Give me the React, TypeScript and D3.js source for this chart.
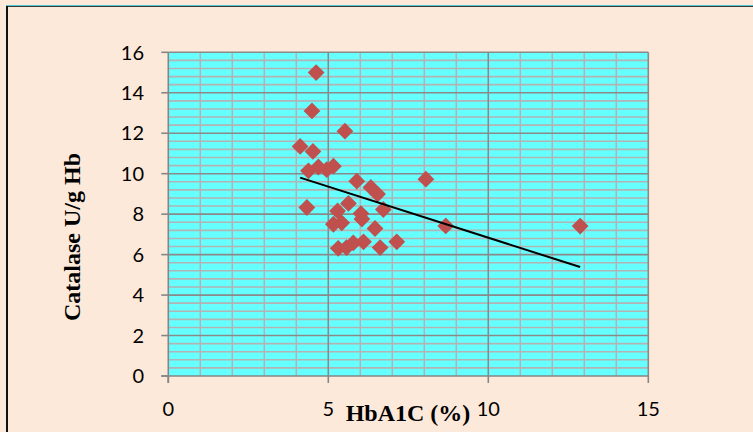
import React from "react";
import * as d3 from "d3";

const hba1c = [4.62, 4.49, 5.52, 4.12, 4.52, 4.38, 4.69, 4.95, 5.16, 5.89, 6.33, 6.54, 8.05, 4.33, 5.63, 5.29, 6.72, 6.02, 6.05, 5.16, 5.42, 6.46, 8.67, 5.31, 5.57, 5.78, 6.1, 6.62, 7.14, 12.87];
const catalase = [15.0, 13.1, 12.1, 11.35, 11.1, 10.14, 10.33, 10.2, 10.37, 9.63, 9.32, 8.99, 9.73, 8.33, 8.53, 8.16, 8.23, 8.03, 7.76, 7.5, 7.57, 7.29, 7.42, 6.31, 6.35, 6.58, 6.63, 6.35, 6.63, 7.41];
const xTicks = [0, 5, 10, 15];
const yTicks = [0, 2, 4, 6, 8, 10, 12, 14, 16];
const xTitle = "HbA1C (%)";
const yTitle = "Catalase U/g Hb";

const W = 753;
const H = 432;

export default function App() {
  const x = d3.scaleLinear().domain([0, 15]).range([168.3, 648.3]);
  const y = d3.scaleLinear().domain([0, 16]).range([376, 52.3]);

  const minorX = d3.range(0, 16, 1).filter((v) => v % 5 !== 0);
  const minorY = d3.range(0, 80).map((i) => i * 0.2 * 2).filter((v) => v <= 16 && Math.abs(v / 2 - Math.round(v / 2)) > 1e-6);

  const mx = d3.mean(hba1c) as number;
  const my = d3.mean(catalase) as number;
  let sxy = 0;
  let sxx = 0;
  hba1c.forEach((v, i) => {
    sxy += (v - mx) * (catalase[i] - my);
    sxx += (v - mx) * (v - mx);
  });
  const slope = sxy / sxx;
  const intercept = my - slope * mx;
  const [x0, x1] = d3.extent(hba1c) as [number, number];
  const trend = d3.line<number>().x((v) => x(v)).y((v) => y(intercept + slope * v))([x0, x1]);

  const diamond = d3.symbol().type(d3.symbolDiamond2).size(180)();

  const tickFont = "Lato, 'Open Sans', sans-serif";
  const titleFont = "'Liberation Serif', 'Times New Roman', serif";

  return (
    <svg width={W} height={H} style={{ position: "absolute", left: 0, top: 0 }}>
      <rect x={0} y={0} width={W} height={H} fill="#fde9d9" />
      <line x1={6} x2={W} y1={5.5} y2={5.5} stroke="#4fc7d0" strokeWidth={1} />
      <line x1={6} x2={W} y1={6.5} y2={6.5} stroke="#3a3a3a" strokeWidth={1} />
      <rect x={6} y={6} width={2} height={H - 6} fill="#111" />

      <rect x={x(0)} y={y(16)} width={x(15) - x(0)} height={y(0) - y(16)} fill="#66ffff" />

      {minorY.map((v) => (
        <line key={"my" + v} x1={x(0)} x2={x(15)} y1={y(v)} y2={y(v)} stroke="#b3b3b3" strokeWidth={1.6} />
      ))}
      {minorX.map((v) => (
        <line key={"mx" + v} x1={x(v)} x2={x(v)} y1={y(0)} y2={y(16)} stroke="#b3b3b3" strokeWidth={1.6} />
      ))}
      {yTicks.filter((v) => v > 0).map((v) => (
        <line key={"gy" + v} x1={x(0)} x2={x(15)} y1={y(v)} y2={y(v)} stroke="#8a8a8a" strokeWidth={1.6} />
      ))}
      {xTicks.filter((v) => v > 0).map((v) => (
        <line key={"gx" + v} x1={x(v)} x2={x(v)} y1={y(0)} y2={y(16)} stroke="#8a8a8a" strokeWidth={1.6} />
      ))}

      <line x1={x(0)} x2={x(0)} y1={y(0) + 7} y2={y(16)} stroke="#868686" strokeWidth={1.6} />
      <line x1={x(0) - 7} x2={x(15)} y1={y(0)} y2={y(0)} stroke="#868686" strokeWidth={1.6} />
      {yTicks.map((v) => (
        <line key={"ty" + v} x1={x(0) - 7} x2={x(0)} y1={y(v)} y2={y(v)} stroke="#868686" strokeWidth={1.6} />
      ))}
      {xTicks.map((v) => (
        <line key={"tx" + v} x1={x(v)} x2={x(v)} y1={y(0)} y2={y(0) + 7} stroke="#868686" strokeWidth={1.6} />
      ))}

      {yTicks.map((v) => (
        <text key={"ly" + v} x={144} y={y(v)} dy="0.36em" textAnchor="end" fontFamily={tickFont} fontSize={20} fill="#000">
          {v}
        </text>
      ))}
      {xTicks.map((v) => (
        <text key={"lx" + v} x={x(v)} y={416} textAnchor="middle" fontFamily={tickFont} fontSize={20} fill="#000">
          {v}
        </text>
      ))}

      {hba1c.map((v, i) => (
        <path key={"p" + i} d={diamond as string} transform={`translate(${x(v)},${y(catalase[i])})`} fill="#c0504d" />
      ))}

      <path d={trend as string} stroke="#000" strokeWidth={2} fill="none" />

      <text x={408} y={421} textAnchor="middle" fontFamily={titleFont} fontWeight="bold" fontSize={24} fill="#000">
        {xTitle}
      </text>
      <text transform={`translate(80,237) rotate(-90)`} textAnchor="middle" fontFamily={titleFont} fontWeight="bold" fontSize={24} fill="#000">
        {yTitle}
      </text>
    </svg>
  );
}
